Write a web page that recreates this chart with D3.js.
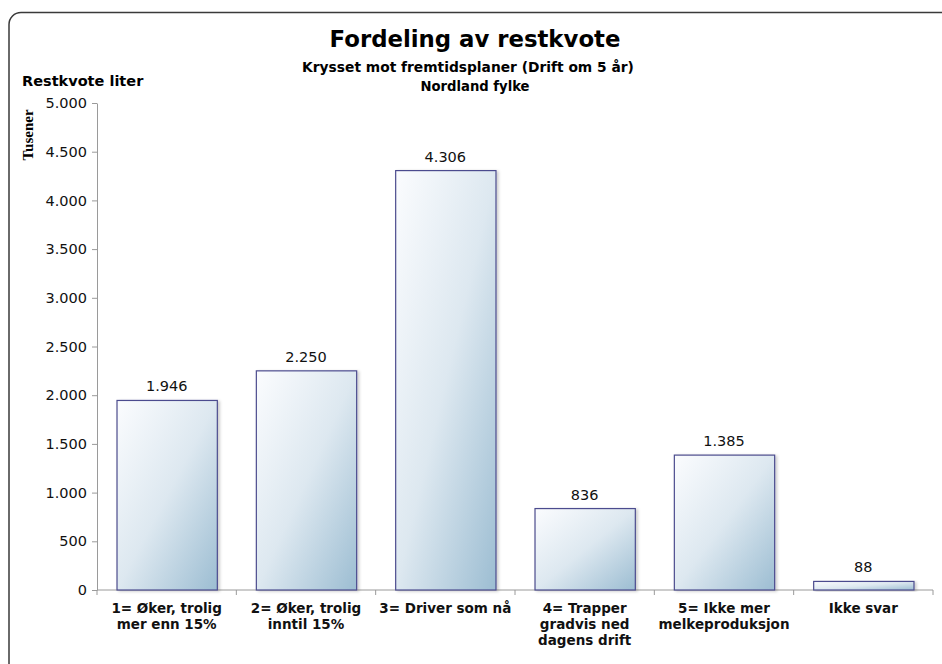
<!DOCTYPE html>
<html>
<head>
<meta charset="utf-8">
<script src="https://cdn.jsdelivr.net/npm/d3@7/dist/d3.min.js"></script>
<style>
  body { margin: 0; background: #fff; }
  svg { display: block; font-family: "DejaVu Sans", Verdana, sans-serif; }
</style>
</head>
<body>
<div id="chart"></div>
<script>
/* Data */
const categories = [
  ["1= Øker, trolig", "mer enn 15%"],
  ["2= Øker, trolig", "inntil 15%"],
  ["3= Driver som nå"],
  ["4= Trapper", "gradvis ned", "dagens drift"],
  ["5= Ikke mer", "melkeproduksjon"],
  ["Ikke svar"]
];
const values = [1946, 2250, 4306, 836, 1385, 88];
const yTicks = [0, 500, 1000, 1500, 2000, 2500, 3000, 3500, 4000, 4500, 5000];

/* Layout */
const WIDTH = 942, HEIGHT = 664;
const X0 = 97, X1 = 933, Y0 = 590, Y1 = 103;

const fmt = (v) => d3.format(",")(v).replace(/,/g, ".");

const svg = d3.select("#chart").append("svg")
  .attr("width", WIDTH).attr("height", HEIGHT);

const defs = svg.append("defs");
const grad = defs.append("linearGradient").attr("id", "barGrad")
  .attr("x1", "0%").attr("y1", "0%").attr("x2", "100%").attr("y2", "100%");
grad.append("stop").attr("offset", "0%").attr("stop-color", "#fbfcfe");
grad.append("stop").attr("offset", "50%").attr("stop-color", "#dde8f0");
grad.append("stop").attr("offset", "100%").attr("stop-color", "#9cbdd2");
const shadow = defs.append("filter").attr("id", "shadow")
  .attr("x", "-10%").attr("y", "-10%").attr("width", "130%").attr("height", "130%");
shadow.append("feDropShadow").attr("dx", 2).attr("dy", 1).attr("stdDeviation", 1.5)
  .attr("flood-color", "#000").attr("flood-opacity", 0.2);

/* Chart frame */
svg.append("rect")
  .attr("x", 9).attr("y", 12.5).attr("width", 960).attr("height", 700)
  .attr("rx", 12).attr("ry", 12)
  .attr("fill", "none").attr("stroke", "#3a3a3a").attr("stroke-width", 1.5);

/* Scales */
const xScale = d3.scaleBand().domain(d3.range(categories.length))
  .range([X0, X1]).paddingInner(0.28).paddingOuter(0.14);
const xOuter = d3.scaleBand().domain(d3.range(categories.length)).range([X0, X1]);
const yScale = d3.scaleLinear().domain([0, 5000]).range([Y0, Y1]);

/* Axes */
const yAxis = d3.axisLeft(yScale).tickValues(yTicks).tickFormat(fmt).tickSize(5).tickSizeOuter(0);
const gy = svg.append("g").attr("transform", `translate(${X0},0)`).call(yAxis);
gy.attr("font-size", null).attr("font-family", null);
gy.select(".domain").attr("stroke", "#9a9a9a");
gy.selectAll(".tick line").attr("stroke", "#9a9a9a");
gy.selectAll(".tick text").style("font-size", "14.5px").attr("fill", "#111")
  .attr("x", -10);

/* X axis baseline and tick marks */
svg.append("line").attr("x1", X0).attr("x2", X1).attr("y1", Y0).attr("y2", Y0)
  .attr("stroke", "#9a9a9a");
const xTickPos = d3.range(categories.length + 1).map((i) => i < categories.length ? xOuter(i) : X1);
svg.selectAll("line.xtick").data(xTickPos).enter().append("line")
  .attr("class", "xtick")
  .attr("x1", (d) => d).attr("x2", (d) => d).attr("y1", Y0).attr("y2", Y0 + 5)
  .attr("stroke", "#9a9a9a");

/* Bars */
svg.selectAll("rect.bar").data(values).enter().append("rect")
  .attr("class", "bar")
  .attr("x", (d, i) => xScale(i) + 0.5)
  .attr("y", (d) => yScale(d))
  .attr("width", xScale.bandwidth())
  .attr("height", (d) => Y0 - yScale(d))
  .attr("fill", "url(#barGrad)")
  .attr("stroke", "#4c4c8e").attr("stroke-width", 1.2)
  .attr("filter", "url(#shadow)");

/* Value labels */
svg.selectAll("text.val").data(values).enter().append("text")
  .attr("class", "val")
  .attr("x", (d, i) => xScale(i) + xScale.bandwidth() / 2)
  .attr("y", (d) => yScale(d) - 9)
  .attr("text-anchor", "middle").style("font-size", "14.5px").attr("fill", "#111")
  .text(fmt);

/* Category labels */
const catG = svg.selectAll("text.cat").data(categories).enter().append("text")
  .attr("class", "cat")
  .attr("x", (d, i) => xOuter(i) + xOuter.bandwidth() / 2)
  .attr("y", 613)
  .attr("text-anchor", "middle").style("font-size", "13.5px").attr("font-weight", "bold").attr("fill", "#111");
catG.each(function (d) {
  const t = d3.select(this);
  d.forEach((line, j) => {
    t.append("tspan").attr("x", t.attr("x")).attr("dy", j === 0 ? 0 : 16).text(line);
  });
});

/* Titles */
svg.append("text").attr("x", 475).attr("y", 47).attr("text-anchor", "middle")
  .style("font-size", "22.8px").attr("font-weight", "bold").attr("fill", "#000")
  .text("Fordeling av restkvote");
svg.append("text").attr("x", 468).attr("y", 72).attr("text-anchor", "middle")
  .style("font-size", "13.8px").attr("font-weight", "bold").attr("fill", "#000")
  .text("Krysset mot fremtidsplaner (Drift om 5 år)");
svg.append("text").attr("x", 475).attr("y", 91).attr("text-anchor", "middle")
  .style("font-size", "13.2px").attr("font-weight", "bold").attr("fill", "#000")
  .text("Nordland fylke");
svg.append("text").attr("x", 22).attr("y", 86)
  .style("font-size", "14.5px").attr("font-weight", "bold").attr("fill", "#000")
  .text("Restkvote liter");
svg.append("text")
  .attr("transform", "translate(33,135) rotate(-90)")
  .attr("text-anchor", "middle")
  .attr("font-family", "Liberation Serif, Times New Roman, serif")
  .style("font-size", "15px").attr("font-weight", "bold").attr("fill", "#000")
  .text("Tusener");
</script>
</body>
</html>
